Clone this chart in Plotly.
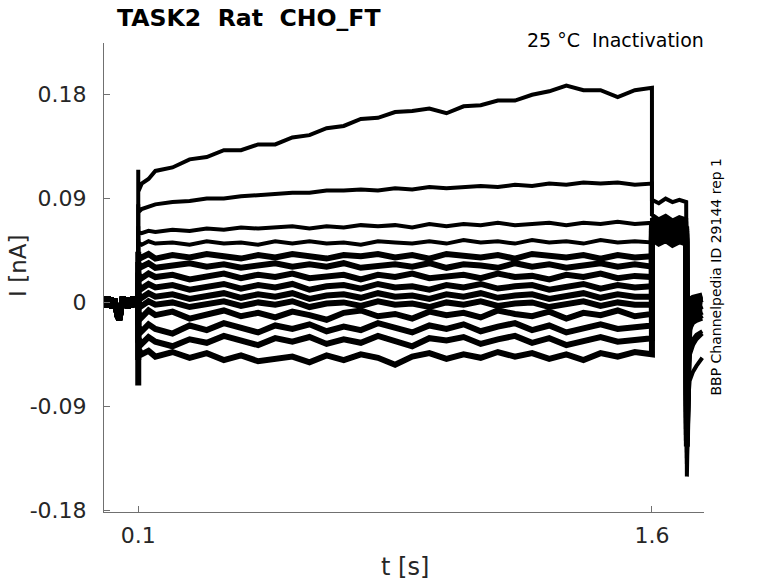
import plotly.graph_objects as go

# time grids [s]
t_pre = [0.0, 0.005, 0.01, 0.015, 0.02, 0.025, 0.03, 0.035, 0.04, 0.045, 0.05,
         0.055, 0.06, 0.065, 0.07, 0.075, 0.08, 0.085, 0.09, 0.095, 0.1]
t_test = [0.1, 0.11, 0.13, 0.15, 0.2, 0.25, 0.3, 0.35, 0.4, 0.45, 0.5, 0.55,
          0.6, 0.65, 0.7, 0.75, 0.8, 0.85, 0.9, 0.95, 1.0, 1.05, 1.1, 1.15,
          1.2, 1.25, 1.3, 1.35, 1.4, 1.45, 1.5, 1.55, 1.6]
t_post = [1.6, 1.62, 1.64, 1.66, 1.68, 1.7]
t_tail = [1.702, 1.706, 1.71, 1.72, 1.73, 1.74, 1.747]

# holding current before the step [nA]
i_pre = [0.002, -0.004, 0.005, -0.003, 0.004, -0.005, 0.003, -0.006, -0.012, -0.015, -0.004,
         0.005, -0.003, 0.004, -0.005, 0.003, -0.004, 0.005, -0.002, 0.004, 0.001]

# capacitive spike right at the step
i_onset = [0.115, 0.085, 0.066, 0.055, 0.044, 0.035, 0.026, 0.017, 0.008, -0.002,
           -0.02, -0.035, -0.05, -0.072]

# currents during the conditioning step (one list per sweep)
i_test = [
    [0.096, 0.103, 0.107, 0.114, 0.117, 0.124, 0.126, 0.132, 0.132, 0.137, 0.137, 0.143, 0.145, 0.151, 0.153, 0.159, 0.160,
     0.165, 0.166, 0.168, 0.164, 0.170, 0.171, 0.175, 0.175, 0.180, 0.183, 0.188, 0.184, 0.184, 0.178, 0.184, 0.186],
    [0.078, 0.081, 0.083, 0.085, 0.087, 0.088, 0.090, 0.090, 0.092, 0.093, 0.094, 0.095, 0.095, 0.097, 0.097, 0.098, 0.097,
     0.099, 0.098, 0.100, 0.099, 0.100, 0.101, 0.100, 0.102, 0.101, 0.103, 0.102, 0.104, 0.103, 0.104, 0.102, 0.103],
    [0.061, 0.060, 0.062, 0.061, 0.063, 0.062, 0.064, 0.063, 0.065, 0.064, 0.065, 0.066, 0.064, 0.066, 0.065, 0.067, 0.066,
     0.067, 0.065, 0.068, 0.066, 0.068, 0.067, 0.069, 0.067, 0.068, 0.069, 0.067, 0.069, 0.068, 0.070, 0.068, 0.069],
    [0.052, 0.050, 0.053, 0.051, 0.052, 0.050, 0.053, 0.051, 0.052, 0.050, 0.053, 0.051, 0.053, 0.051, 0.052, 0.050, 0.053,
     0.052, 0.051, 0.053, 0.051, 0.054, 0.052, 0.053, 0.051, 0.054, 0.052, 0.053, 0.051, 0.054, 0.052, 0.053, 0.052],
    [0.041, 0.039, 0.042, 0.038, 0.041, 0.039, 0.042, 0.040, 0.038, 0.041, 0.039, 0.042, 0.040, 0.038, 0.041, 0.040, 0.042,
     0.039, 0.041, 0.038, 0.042, 0.040, 0.039, 0.041, 0.038, 0.042, 0.040, 0.039, 0.041, 0.038, 0.041, 0.039, 0.040],
    [0.033, 0.031, 0.034, 0.030, 0.032, 0.034, 0.031, 0.033, 0.030, 0.032, 0.034, 0.031, 0.033, 0.031, 0.034, 0.030, 0.032,
     0.033, 0.031, 0.034, 0.030, 0.033, 0.032, 0.030, 0.034, 0.031, 0.033, 0.030, 0.032, 0.034, 0.031, 0.033, 0.031],
    [0.024, 0.021, 0.025, 0.022, 0.024, 0.020, 0.023, 0.025, 0.021, 0.024, 0.022, 0.025, 0.021, 0.023, 0.024, 0.020, 0.024,
     0.022, 0.025, 0.021, 0.023, 0.024, 0.021, 0.025, 0.022, 0.023, 0.020, 0.024, 0.022, 0.025, 0.021, 0.023, 0.022],
    [0.015, 0.012, 0.016, 0.013, 0.015, 0.011, 0.014, 0.016, 0.012, 0.015, 0.013, 0.016, 0.011, 0.014, 0.015, 0.012, 0.016,
     0.013, 0.014, 0.011, 0.015, 0.013, 0.016, 0.012, 0.014, 0.015, 0.011, 0.014, 0.016, 0.012, 0.015, 0.013, 0.014],
    [0.007, 0.004, 0.008, 0.005, 0.007, 0.003, 0.006, 0.008, 0.004, 0.007, 0.005, 0.008, 0.003, 0.006, 0.007, 0.004, 0.008,
     0.005, 0.006, 0.003, 0.007, 0.005, 0.008, 0.004, 0.006, 0.007, 0.003, 0.006, 0.008, 0.004, 0.007, 0.005, 0.005],
    [0.000, -0.003, 0.001, -0.002, 0.000, -0.004, -0.001, 0.001, -0.003, 0.000, -0.002, 0.001, -0.004, -0.001, 0.000, -0.003, 0.001,
     -0.002, -0.001, -0.004, 0.000, -0.002, 0.001, -0.003, -0.001, 0.000, -0.004, -0.001, 0.001, -0.003, 0.000, -0.002, -0.002],
    [-0.009, -0.013, -0.007, -0.011, -0.008, -0.014, -0.010, -0.007, -0.012, -0.009, -0.013, -0.008, -0.011, -0.015, -0.009, -0.007, -0.012,
     -0.010, -0.014, -0.008, -0.011, -0.009, -0.013, -0.007, -0.010, -0.012, -0.008, -0.014, -0.009, -0.011, -0.007, -0.012, -0.010],
    [-0.021, -0.025, -0.019, -0.023, -0.027, -0.020, -0.024, -0.018, -0.022, -0.026, -0.020, -0.023, -0.019, -0.025, -0.021, -0.024, -0.018,
     -0.022, -0.026, -0.020, -0.023, -0.019, -0.025, -0.021, -0.018, -0.024, -0.020, -0.026, -0.022, -0.019, -0.023, -0.021, -0.020],
    [-0.031, -0.036, -0.030, -0.034, -0.038, -0.032, -0.035, -0.029, -0.033, -0.037, -0.031, -0.034, -0.030, -0.036, -0.032, -0.035, -0.029,
     -0.034, -0.038, -0.031, -0.033, -0.030, -0.036, -0.032, -0.029, -0.035, -0.031, -0.037, -0.033, -0.030, -0.034, -0.032, -0.031],
    [-0.040, -0.045, -0.042, -0.047, -0.043, -0.048, -0.044, -0.050, -0.046, -0.051, -0.049, -0.047, -0.052, -0.046, -0.050, -0.045, -0.048,
     -0.054, -0.047, -0.044, -0.049, -0.045, -0.048, -0.043, -0.047, -0.044, -0.049, -0.045, -0.050, -0.044, -0.047, -0.043, -0.045],
]

# currents during the test step
i_post = [
    [0.089, 0.086, 0.090, 0.087, 0.089, 0.087],
    [0.076, 0.072, 0.075, 0.071, 0.074, 0.072],
    [0.073, 0.069, 0.072, 0.068, 0.071, 0.069],
    [0.070, 0.066, 0.069, 0.065, 0.068, 0.066],
    [0.068, 0.064, 0.067, 0.063, 0.066, 0.064],
    [0.066, 0.062, 0.065, 0.061, 0.064, 0.062],
    [0.064, 0.060, 0.063, 0.059, 0.062, 0.060],
    [0.062, 0.058, 0.061, 0.057, 0.060, 0.058],
    [0.060, 0.057, 0.059, 0.056, 0.059, 0.057],
    [0.059, 0.055, 0.058, 0.054, 0.057, 0.055],
    [0.058, 0.054, 0.057, 0.053, 0.056, 0.054],
    [0.057, 0.053, 0.056, 0.052, 0.055, 0.053],
    [0.056, 0.052, 0.055, 0.051, 0.054, 0.052],
    [0.055, 0.051, 0.054, 0.050, 0.053, 0.051],
]

# tail currents after return to holding
i_tail = [
    [-0.151, -0.085, -0.068, -0.060, -0.055, -0.051, -0.048],
    [-0.140, -0.060, -0.046, -0.037, -0.032, -0.029, -0.027],
    [-0.135, -0.052, -0.040, -0.032, -0.028, -0.026, -0.025],
    [-0.130, -0.035, -0.024, -0.018, -0.016, -0.015, -0.014],
    [-0.125, -0.030, -0.020, -0.015, -0.013, -0.012, -0.011],
    [-0.120, -0.026, -0.016, -0.012, -0.010, -0.009, -0.008],
    [-0.115, -0.022, -0.013, -0.009, -0.007, -0.006, -0.006],
    [-0.110, -0.018, -0.010, -0.006, -0.004, -0.004, -0.003],
    [-0.105, -0.015, -0.007, -0.004, -0.002, -0.001, -0.001],
    [-0.100, -0.012, -0.005, -0.002, 0.000, 0.001, 0.001],
    [-0.095, -0.010, -0.003, 0.000, 0.002, 0.002, 0.003],
    [-0.090, -0.008, -0.001, 0.002, 0.003, 0.004, 0.004],
    [-0.085, -0.006, 0.001, 0.003, 0.004, 0.005, 0.005],
    [-0.080, -0.004, 0.002, 0.004, 0.005, 0.006, 0.006],
]

x_ticks = [0.1, 1.6]
x_ticklabels = ['0.1', '1.6']
y_ticks = [-0.18, -0.09, 0, 0.09, 0.18]
y_ticklabels = ['-0.18', '-0.09', '0', '0.09', '0.18']

FONT = 'DejaVu Sans'
AXCOL = '#707070'
TXT = '#262626'

fig = go.Figure()
for k in range(len(i_test)):
    x = t_pre + [0.1] + t_test + t_post + t_tail
    y = i_pre + [i_onset[k]] + i_test[k] + i_post[k] + i_tail[k]
    w = 4 if k < 4 else 6
    fig.add_trace(go.Scatter(x=x, y=y, mode='lines', line=dict(color='black', width=w),
                             showlegend=False, hoverinfo='skip'))

# plot area in pixels: l=104, r=704.3, t=43.3, b=512
def px(xp):
    return (xp - 104) / 600.3

def py(yp):
    return (512 - yp) / 468.7

annots = [
    dict(text='<b>TASK2\u00a0 Rat\u00a0 CHO_FT</b>', x=px(115), y=py(18), xanchor='left', yanchor='middle',
         font=dict(family=FONT, size=23.6, color='black')),
    dict(text='25 °C\u00a0 Inactivation', x=px(706), y=py(40), xanchor='right', yanchor='middle',
         font=dict(family=FONT, size=19, color='black')),
    dict(text='BBP Channelpedia ID 29144 rep 1', x=px(716), y=py(277), xanchor='center', yanchor='middle',
         textangle=-90, font=dict(family=FONT, size=14, color='black')),
    dict(text='I [nA]', x=px(18), y=py(266), xanchor='center', yanchor='middle', textangle=-90,
         font=dict(family=FONT, size=23, color=TXT)),
    dict(text='t [s]', x=px(405), y=py(567), xanchor='center', yanchor='middle',
         font=dict(family=FONT, size=24, color=TXT)),
]
for a in annots:
    a.update(xref='paper', yref='paper', showarrow=False)

fig.update_layout(
    width=778, height=583,
    margin=dict(l=104, r=73.7, t=43.3, b=71),
    paper_bgcolor='white', plot_bgcolor='white',
    font=dict(family=FONT, color=TXT),
    annotations=annots,
    xaxis=dict(range=[0, 1.752], showgrid=False, zeroline=False, showline=True, linecolor=AXCOL, linewidth=1,
               ticks='inside', ticklen=6, tickcolor=AXCOL, tickvals=x_ticks, ticktext=x_ticklabels,
               tickfont=dict(size=22, color=TXT), ticklabelstandoff=4),
    yaxis=dict(range=[-0.1817, 0.2249], showgrid=False, zeroline=False, showline=True, linecolor=AXCOL, linewidth=1,
               ticks='inside', ticklen=6, tickcolor=AXCOL, tickvals=y_ticks, ticktext=y_ticklabels,
               tickfont=dict(size=22, color=TXT), ticklabelstandoff=12),
)

# drop the browser's default 8 px body margin so the figure fills the window
fig.write_html('out.html', config={'displayModeBar': False},
               post_script="document.body.style.margin='0';")
